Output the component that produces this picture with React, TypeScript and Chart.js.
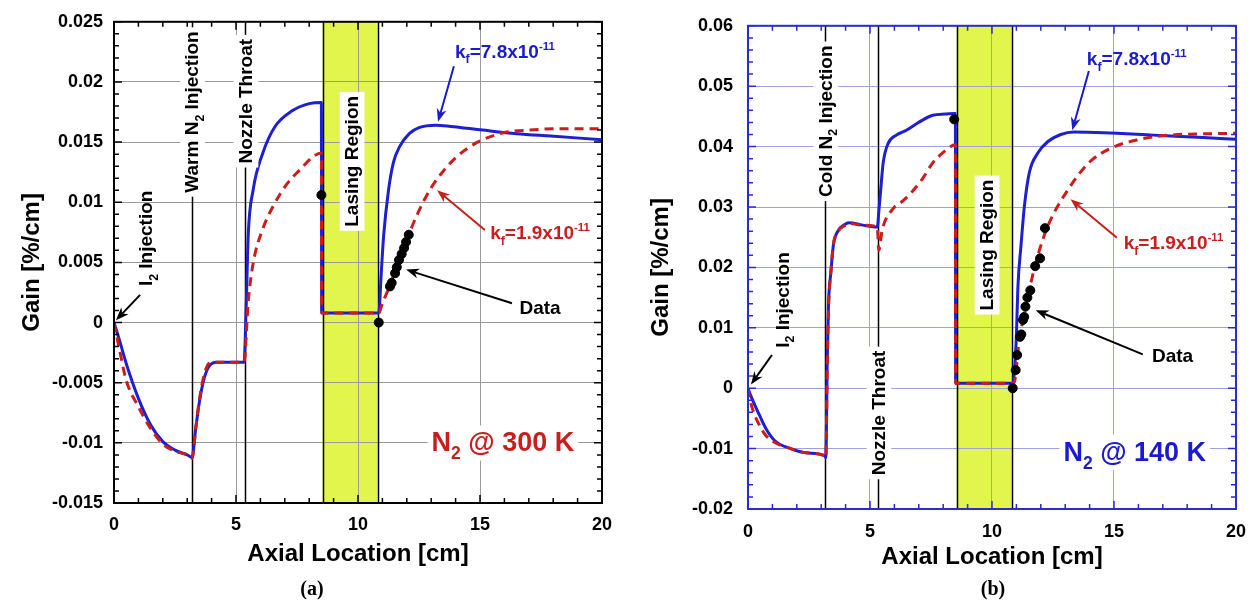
import React, { useEffect, useRef } from 'react';
import { Chart, registerables } from 'chart.js';
Chart.register(...registerables);

// ---------- Panel (a): N2 @ 300 K ----------
const A_BLUE_X = [0, 0.2, 0.5, 1.0, 1.5, 2.0, 2.5, 3.0, 3.2, 3.35, 3.5, 3.7, 3.95, 4.2, 4.6, 5.0, 5.33, 5.42, 5.5, 5.7, 6.1, 6.6, 7.3, 8.0, 8.5, 8.51, 10.85, 10.95, 11.05, 11.25, 11.45, 11.7, 12.1, 12.5, 13.2, 13.8, 15.1, 16.5, 17.9, 20];
const A_BLUE_Y = [0, -0.0013, -0.0034, -0.0063, -0.0085, -0.0099, -0.0106, -0.011, -0.0112, -0.0088, -0.0066, -0.0046, -0.0035, -0.0033, -0.0033, -0.0033, -0.0033, 0.0015, 0.0072, 0.011, 0.0141, 0.0163, 0.0176, 0.0182, 0.0183, 0.0008, 0.0008, 0.004, 0.0072, 0.011, 0.0133, 0.0146, 0.0157, 0.0162, 0.0164, 0.0163, 0.016, 0.0157, 0.0155, 0.0152];
const A_RED_X = [0, 0.2, 0.5, 1.0, 1.5, 2.0, 2.5, 3.0, 3.2, 3.35, 3.5, 3.7, 3.95, 4.2, 5.0, 5.33, 5.5, 5.71, 6.1, 6.53, 7.08, 7.62, 8.17, 8.5, 8.51, 10.85, 11.0, 11.25, 11.6, 12.0, 12.5, 13.0, 13.5, 14.0, 14.5, 15.0, 15.5, 16.0, 17.0, 18.0, 20];
const A_RED_Y = [0, -0.002, -0.0048, -0.007, -0.0088, -0.0101, -0.0107, -0.011, -0.0113, -0.0088, -0.0064, -0.0043, -0.0033, -0.0033, -0.0033, -0.0033, 0.0017, 0.005, 0.0078, 0.0097, 0.0115, 0.0127, 0.0138, 0.0141, 0.0008, 0.0008, 0.0016, 0.0028, 0.0047, 0.0069, 0.0093, 0.0112, 0.0126, 0.0137, 0.0145, 0.0151, 0.0155, 0.0158, 0.016, 0.0161, 0.0161];
const A_DATA_X = [8.5, 10.85, 11.31, 11.38, 11.52, 11.59, 11.68, 11.79, 11.89, 11.97, 12.08];
const A_DATA_Y = [0.0106, 0, 0.003, 0.0033, 0.0041, 0.0046, 0.0052, 0.0057, 0.0062, 0.0067, 0.0073];
const A_Y_RANGE = [-0.015, 0.025];

// ---------- Panel (b): N2 @ 140 K ----------
const B_BLUE_X = [0, 0.1, 0.45, 0.75, 1.1, 1.75, 2.4, 3.15, 3.19, 3.25, 3.3, 3.4, 3.5, 3.67, 4.0, 4.15, 4.7, 5.3, 5.37, 5.43, 5.54, 5.74, 6.08, 6.49, 7.03, 7.57, 8.1, 8.5, 8.51, 10.85, 10.93, 11.0, 11.06, 11.19, 11.33, 11.53, 11.87, 12.28, 12.82, 13.36, 14.58, 16.61, 18.65, 20];
const B_BLUE_Y = [0, -0.0011, -0.0043, -0.0068, -0.0087, -0.01, -0.0107, -0.0112, -0.0115, 0.005, 0.014, 0.0193, 0.0237, 0.0259, 0.0272, 0.0274, 0.027, 0.0267, 0.0297, 0.0324, 0.0373, 0.0405, 0.0419, 0.0427, 0.0441, 0.0452, 0.0454, 0.0455, 0.0008, 0.0008, 0.0033, 0.0087, 0.0166, 0.0237, 0.0302, 0.0357, 0.0389, 0.0408, 0.042, 0.0424, 0.0423, 0.0419, 0.0415, 0.0412];
const B_RED_X = [0, 0.1, 0.45, 0.75, 1.1, 1.75, 2.4, 3.15, 3.19, 3.25, 3.3, 3.4, 3.5, 3.7, 4.0, 4.15, 4.7, 5.3, 5.36, 5.5, 5.94, 6.35, 6.76, 7.17, 7.57, 8.05, 8.5, 8.51, 10.85, 10.93, 11.09, 11.25, 11.46, 11.74, 12.14, 12.55, 13.09, 13.5, 14.04, 14.85, 15.93, 17.29, 20];
const B_RED_Y = [0, -0.0022, -0.006, -0.0079, -0.009, -0.01, -0.0107, -0.0112, -0.0115, 0.004, 0.013, 0.0195, 0.0238, 0.026, 0.027, 0.0273, 0.027, 0.0267, 0.0228, 0.0262, 0.0297, 0.031, 0.0327, 0.0348, 0.0373, 0.0392, 0.0403, 0.0008, 0.0008, 0.0012, 0.007, 0.0109, 0.015, 0.0199, 0.0253, 0.0291, 0.0327, 0.0351, 0.0376, 0.0397, 0.0411, 0.0419, 0.0422];
const B_DATA_X = [8.45, 10.85, 10.97, 11.03, 11.15, 11.2, 11.27, 11.32, 11.37, 11.45, 11.57, 11.77, 11.97, 12.17];
const B_DATA_Y = [0.0445, 0, 0.003, 0.0055, 0.0085, 0.0089, 0.0113, 0.0118, 0.0135, 0.015, 0.0162, 0.0202, 0.0215, 0.0265];
const B_Y_RANGE = [-0.02, 0.06];

const X_RANGE = [0, 20];
const LASING = [8.55, 10.8];

const FONT = '"Liberation Sans", Arial, Helvetica, sans-serif';
const LINE_BLUE = '#1e1ed4';
const LINE_RED = '#cc1c1c';
const TXT_BLUE = '#1a1ad0';
const TXT_RED = '#c81e1e';

type Seg = { t: string; m?: 'sub' | 'sup' };
type Txt = { segs: Seg[]; x: number; y: number; size: number; color: string; rot?: boolean; bg?: boolean };
type Arrow = { x1: number; y1: number; x2: number; y2: number; color: string };

const kf = (v: string): Seg[] => [{ t: 'k' }, { t: 'f', m: 'sub' }, { t: '=' + v + 'x10' }, { t: '-11', m: 'sup' }];

const A_NOTES = {
  vlines: [3.18, 5.37],
  texts: [
    { segs: [{ t: 'I' }, { t: '2', m: 'sub' }, { t: ' Injection' }], x: 1.27, y: 0.007, size: 19, color: '#000', rot: true },
    { segs: [{ t: 'Warm N' }, { t: '2', m: 'sub' }, { t: ' Injection' }], x: 3.18, y: 0.0175, size: 19, color: '#000', rot: true, bg: true },
    { segs: [{ t: 'Nozzle Throat' }], x: 5.37, y: 0.0184, size: 19, color: '#000', rot: true, bg: true },
    { segs: [{ t: 'Lasing Region' }], x: 9.72, y: 0.0134, size: 19, color: '#000', rot: true, bg: true },
    { segs: kf('7.8'), x: 16.02, y: 0.0226, size: 19, color: TXT_BLUE },
    { segs: kf('1.9'), x: 17.46, y: 0.0075, size: 19, color: TXT_RED },
    { segs: [{ t: 'Data' }], x: 17.46, y: 0.0013, size: 19, color: '#000' },
    { segs: [{ t: 'N' }, { t: '2', m: 'sub' }, { t: ' @ 300 K' }], x: 15.94, y: -0.0099, size: 27, color: TXT_RED, bg: true },
  ] as Txt[],
  arrows: [
    { x1: 1.07, y1: 0.0023, x2: 0.08, y2: 0.0002, color: '#000' },
    { x1: 13.93, y1: 0.0213, x2: 13.28, y2: 0.0167, color: TXT_BLUE },
    { x1: 15.2, y1: 0.0077, x2: 13.24, y2: 0.011, color: TXT_RED },
    { x1: 16.31, y1: 0.0016, x2: 11.97, y2: 0.0044, color: '#000' },
  ] as Arrow[],
};

const B_NOTES = {
  vlines: [3.15, 5.33],
  texts: [
    { segs: [{ t: 'I' }, { t: '2', m: 'sub' }, { t: ' Injection' }], x: 1.38, y: 0.0146, size: 19, color: '#000', rot: true },
    { segs: [{ t: 'Cold N' }, { t: '2', m: 'sub' }, { t: ' Injection' }], x: 3.15, y: 0.0442, size: 19, color: '#000', rot: true, bg: true },
    { segs: [{ t: 'Nozzle Throat' }], x: 5.33, y: -0.0041, size: 19, color: '#000', rot: true, bg: true },
    { segs: [{ t: 'Lasing Region' }], x: 9.76, y: 0.0237, size: 19, color: '#000', rot: true, bg: true },
    { segs: kf('7.8'), x: 15.93, y: 0.0546, size: 19, color: TXT_BLUE },
    { segs: kf('1.9'), x: 17.44, y: 0.0241, size: 19, color: TXT_RED },
    { segs: [{ t: 'Data' }], x: 17.4, y: 0.0054, size: 19, color: '#000' },
    { segs: [{ t: 'N' }, { t: '2', m: 'sub' }, { t: ' @ 140 K' }], x: 15.85, y: -0.0104, size: 27, color: TXT_BLUE, bg: true },
  ] as Txt[],
  arrows: [
    { x1: 0.98, y1: 0.0055, x2: 0.12, y2: 0.0006, color: '#000' },
    { x1: 13.97, y1: 0.0525, x2: 13.29, y2: 0.0427, color: TXT_BLUE },
    { x1: 15.12, y1: 0.0249, x2: 13.22, y2: 0.0313, color: TXT_RED },
    { x1: 16.18, y1: 0.0056, x2: 11.79, y2: 0.0129, color: '#000' },
  ] as Arrow[],
};

const zip = (xs: number[], ys: number[]) => xs.map((x, i) => ({ x, y: ys[i] }));

function segFont(s: Seg, size: number) {
  const sz = s.m === 'sub' ? size * 0.65 : s.m === 'sup' ? size * 0.6 : size;
  return `bold ${sz}px ${FONT}`;
}

function drawRich(ctx: CanvasRenderingContext2D, t: Txt, px: number, py: number) {
  ctx.save();
  ctx.translate(px, py);
  if (t.rot) ctx.rotate(-Math.PI / 2);
  let w = 0;
  const widths = t.segs.map((s) => {
    ctx.font = segFont(s, t.size);
    const m = ctx.measureText(s.t).width;
    w += m;
    return m;
  });
  if (t.bg) {
    ctx.fillStyle = '#fff';
    ctx.fillRect(-w / 2 - 4, -t.size * 0.6, w + 8, t.size * 1.3);
  }
  let x0 = -w / 2;
  ctx.fillStyle = t.color;
  ctx.textBaseline = 'alphabetic';
  ctx.textAlign = 'left';
  t.segs.forEach((s, i) => {
    ctx.font = segFont(s, t.size);
    const off = s.m === 'sub' ? t.size * 0.3 : s.m === 'sup' ? -t.size * 0.42 : 0;
    ctx.fillText(s.t, x0, t.size * 0.36 + off);
    x0 += widths[i];
  });
  ctx.restore();
}

function drawArrow(ctx: CanvasRenderingContext2D, x1: number, y1: number, x2: number, y2: number, color: string) {
  const ang = Math.atan2(y2 - y1, x2 - x1);
  const head = 13;
  const hw = 5;
  ctx.save();
  ctx.strokeStyle = color;
  ctx.fillStyle = color;
  ctx.lineWidth = 2;
  ctx.beginPath();
  ctx.moveTo(x1, y1);
  ctx.lineTo(x2 - Math.cos(ang) * head * 0.7, y2 - Math.sin(ang) * head * 0.7);
  ctx.stroke();
  ctx.beginPath();
  ctx.moveTo(x2, y2);
  ctx.lineTo(x2 - Math.cos(ang) * head + Math.sin(ang) * hw, y2 - Math.sin(ang) * head - Math.cos(ang) * hw);
  ctx.lineTo(x2 - Math.cos(ang) * head * 0.7, y2 - Math.sin(ang) * head * 0.7);
  ctx.lineTo(x2 - Math.cos(ang) * head - Math.sin(ang) * hw, y2 - Math.sin(ang) * head + Math.cos(ang) * hw);
  ctx.closePath();
  ctx.fill();
  ctx.restore();
}

type PanelCfg = {
  blueX: number[]; blueY: number[]; redX: number[]; redY: number[]; dataX: number[]; dataY: number[];
  yRange: number[]; yMajor: number; yMinor: number;
  frame: string; grid: string;
  notes: { vlines: number[]; texts: Txt[]; arrows: Arrow[] };
  padRight: number; yWidth: number; xHeight: number; yTickPad: number; xTickPad: number; xTitlePad: number;
  tag: string; tagX: number;
};

function makePlugin(cfg: PanelCfg) {
  return {
    id: 'panelDecor',
    beforeDraw(chart: any) {
      const { ctx, chartArea: a, scales } = chart;
      ctx.save();
      ctx.fillStyle = '#fff';
      ctx.fillRect(0, 0, chart.width, chart.height);
      const x0 = scales.x.getPixelForValue(LASING[0]);
      const x1 = scales.x.getPixelForValue(LASING[1]);
      ctx.fillStyle = '#e2f54c';
      ctx.fillRect(x0, a.top, x1 - x0, a.bottom - a.top);
      ctx.restore();
    },
    beforeDatasetsDraw(chart: any) {
      const { ctx, chartArea: a, scales } = chart;
      ctx.save();
      ctx.strokeStyle = '#000';
      ctx.lineWidth = 1.5;
      [...cfg.notes.vlines, ...LASING].forEach((v) => {
        const px = Math.round(scales.x.getPixelForValue(v)) + 0.5;
        ctx.beginPath();
        ctx.moveTo(px, a.top);
        ctx.lineTo(px, a.bottom);
        ctx.stroke();
      });
      ctx.restore();
    },
    afterDatasetsDraw(chart: any) {
      const { ctx, scales } = chart;
      cfg.notes.arrows.forEach((ar) =>
        drawArrow(ctx, scales.x.getPixelForValue(ar.x1), scales.y.getPixelForValue(ar.y1), scales.x.getPixelForValue(ar.x2), scales.y.getPixelForValue(ar.y2), ar.color)
      );
      cfg.notes.texts.forEach((t) => drawRich(ctx, t, scales.x.getPixelForValue(t.x), scales.y.getPixelForValue(t.y)));
    },
    afterDraw(chart: any) {
      const { ctx, chartArea: a, scales } = chart;
      ctx.save();
      ctx.strokeStyle = cfg.frame;
      ctx.lineWidth = 1.5;
      ctx.beginPath();
      for (let v = X_RANGE[0]; v <= X_RANGE[1] + 1e-9; v += 1) {
        const px = scales.x.getPixelForValue(v);
        const len = Math.abs(v % 5) < 1e-9 ? 8 : 5;
        ctx.moveTo(px, a.bottom);
        ctx.lineTo(px, a.bottom - len);
        ctx.moveTo(px, a.top);
        ctx.lineTo(px, a.top + len);
      }
      const n = Math.round((cfg.yRange[1] - cfg.yRange[0]) / cfg.yMinor);
      for (let k = 0; k <= n; k++) {
        const v = cfg.yRange[0] + k * cfg.yMinor;
        const r = v / cfg.yMajor;
        const len = Math.abs(r - Math.round(r)) < 1e-6 ? 8 : 5;
        const py = scales.y.getPixelForValue(v);
        ctx.moveTo(a.left, py);
        ctx.lineTo(a.left + len, py);
        ctx.moveTo(a.right, py);
        ctx.lineTo(a.right - len, py);
      }
      ctx.stroke();
      ctx.lineWidth = 2;
      ctx.strokeRect(a.left, a.top, a.right - a.left, a.bottom - a.top);
      ctx.fillStyle = '#000';
      ctx.font = `bold 20px "Liberation Serif", "Times New Roman", serif`;
      ctx.textAlign = 'center';
      ctx.textBaseline = 'middle';
      ctx.fillText(cfg.tag, cfg.tagX, 590);
      ctx.restore();
    },
  };
}

function buildChart(canvas: HTMLCanvasElement, cfg: PanelCfg) {
  const tickFont = { family: FONT, size: 18, weight: 'bold' as const };
  const titleFont = { family: FONT, size: 24, weight: 'bold' as const };
  return new Chart(canvas, {
    type: 'line',
    data: {
      datasets: [
        { label: 'Data', data: zip(cfg.dataX, cfg.dataY), showLine: false, pointRadius: 4.5, pointBackgroundColor: '#000', pointBorderColor: '#000', borderColor: '#000', order: 1 },
        { label: 'kf=1.9x10^-11', data: zip(cfg.redX, cfg.redY), borderColor: LINE_RED, borderWidth: 3, borderDash: [9, 6], pointRadius: 0, tension: 0.4, cubicInterpolationMode: 'monotone', fill: false, order: 2 },
        { label: 'kf=7.8x10^-11', data: zip(cfg.blueX, cfg.blueY), borderColor: LINE_BLUE, borderWidth: 3, pointRadius: 0, tension: 0.4, cubicInterpolationMode: 'monotone', fill: false, order: 3 },
      ],
    },
    options: {
      responsive: false,
      animation: false,
      devicePixelRatio: 1,
      events: [],
      layout: { padding: { left: 0, right: cfg.padRight, top: 17, bottom: 0 } },
      plugins: { legend: { display: false }, tooltip: { enabled: false } },
      scales: {
        x: {
          type: 'linear',
          min: X_RANGE[0],
          max: X_RANGE[1],
          ticks: { stepSize: 5, padding: cfg.xTickPad, font: tickFont, color: '#000', maxRotation: 0 },
          grid: { color: cfg.grid, drawTicks: false, lineWidth: 1 },
          border: { display: false },
          title: { display: true, text: 'Axial Location [cm]', font: titleFont, color: '#000', padding: { top: 0, bottom: cfg.xTitlePad } },
          afterFit: (s: any) => { s.height = cfg.xHeight; },
        },
        y: {
          type: 'linear',
          min: cfg.yRange[0],
          max: cfg.yRange[1],
          ticks: {
            stepSize: cfg.yMajor,
            padding: cfg.yTickPad,
            font: tickFont,
            color: '#000',
            callback: (v: any) => String(parseFloat(Number(v).toFixed(4))),
          },
          grid: { color: cfg.grid, drawTicks: false, lineWidth: 1 },
          border: { display: false },
          title: { display: true, text: 'Gain [%/cm]', font: titleFont, color: '#000', padding: { top: 17.6, bottom: 0 } },
          afterFit: (s: any) => { s.width = cfg.yWidth; },
        },
      },
    } as any,
    plugins: [makePlugin(cfg)],
  });
}

const PANEL_A: PanelCfg = {
  blueX: A_BLUE_X, blueY: A_BLUE_Y, redX: A_RED_X, redY: A_RED_Y, dataX: A_DATA_X, dataY: A_DATA_Y,
  yRange: A_Y_RANGE, yMajor: 0.005, yMinor: 0.001,
  frame: '#000', grid: '#9a9a9a', notes: A_NOTES,
  padRight: 27, yWidth: 114, xHeight: 104, yTickPad: 11, xTickPad: 11, xTitlePad: 38,
  tag: '(a)', tagX: 312,
};

const PANEL_B: PanelCfg = {
  blueX: B_BLUE_X, blueY: B_BLUE_Y, redX: B_RED_X, redY: B_RED_Y, dataX: B_DATA_X, dataY: B_DATA_Y,
  yRange: B_Y_RANGE, yMajor: 0.01, yMinor: 0.002,
  frame: '#2a2ad2', grid: '#a0a0dc', notes: B_NOTES,
  padRight: 18, yWidth: 119, xHeight: 98, yTickPad: 15, xTickPad: 12, xTitlePad: 35,
  tag: '(b)', tagX: 364,
};

function Panel({ cfg, left }: { cfg: PanelCfg; left: number }) {
  const ref = useRef<HTMLCanvasElement>(null);
  useEffect(() => {
    if (!ref.current) return;
    const chart = buildChart(ref.current, cfg);
    return () => chart.destroy();
  }, [cfg]);
  return (
    <canvas
      ref={ref}
      width={629}
      height={607}
      style={{ position: 'absolute', left, top: 0, width: 629, height: 607 }}
    />
  );
}

export default function App() {
  return (
    <div style={{ position: 'fixed', left: 0, top: 0, width: 1258, height: 607, background: '#fff', overflow: 'hidden' }}>
      <Panel cfg={PANEL_A} left={0} />
      <Panel cfg={PANEL_B} left={629} />
    </div>
  );
}
